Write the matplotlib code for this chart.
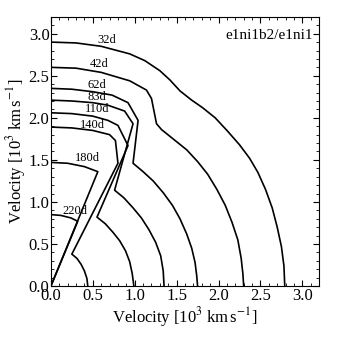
import matplotlib
matplotlib.use('Agg')
import matplotlib.pyplot as plt
from matplotlib.ticker import MultipleLocator

plt.rcParams['font.family'] = ['Liberation Serif', 'DejaVu Serif']
plt.rcParams['mathtext.fontset'] = 'stix'

# contour paths (x, y) in 10^3 km/s
x_32d = [0.0, 0.3, 0.6, 0.94, 1.12, 1.30, 1.42, 1.54, 1.68, 1.81, 1.96, 2.10, 2.25,
         2.37, 2.47, 2.56, 2.64, 2.70, 2.75, 2.78, 2.79]
y_32d = [2.90, 2.89, 2.85, 2.76, 2.68, 2.56, 2.45, 2.32, 2.21, 2.12, 2.00, 1.85, 1.68,
         1.52, 1.35, 1.15, 0.93, 0.70, 0.47, 0.24, 0.0]
x_42d = [0.0, 0.3, 0.6, 0.94, 1.14, 1.20, 1.26, 1.32, 1.47, 1.62, 1.75, 1.87, 1.98,
         2.08, 2.16, 2.23, 2.27, 2.29, 2.30]
y_42d = [2.60, 2.59, 2.54, 2.44, 2.33, 2.23, 1.93, 1.86, 1.74, 1.62, 1.48, 1.33, 1.15,
         0.96, 0.76, 0.55, 0.33, 0.15, 0.0]
x_62d = [0.0, 0.25, 0.5, 0.73, 0.92, 1.04, 0.98, 1.10, 1.22, 1.34, 1.45, 1.54, 1.62,
         1.68, 1.72, 1.74, 1.75]
y_62d = [2.35, 2.34, 2.31, 2.27, 2.18, 1.97, 1.46, 1.36, 1.25, 1.11, 0.96, 0.80, 0.62,
         0.45, 0.28, 0.12, 0.0]
x_83d = [0.0, 0.25, 0.5, 0.68, 0.88, 0.98, 0.76, 0.87, 0.98, 1.08, 1.17, 1.25, 1.31,
         1.34, 1.35]
y_83d = [2.21, 2.20, 2.18, 2.15, 2.08, 1.93, 1.14, 1.05, 0.93, 0.81, 0.67, 0.52, 0.36,
         0.18, 0.0]
x_110d = [0.0, 0.25, 0.5, 0.68, 0.80, 0.92, 0.55, 0.65, 0.74, 0.82, 0.89, 0.94, 0.97, 0.99]
y_110d = [2.06, 2.05, 2.02, 1.97, 1.91, 1.67, 0.82, 0.74, 0.64, 0.54, 0.42, 0.29, 0.15, 0.0]
x_140d = [0.0, 0.25, 0.5, 0.70, 0.77, 0.80, 0.25, 0.31, 0.36, 0.40, 0.43, 0.44]
y_140d = [1.89, 1.88, 1.85, 1.80, 1.73, 1.46, 0.38, 0.33, 0.26, 0.18, 0.09, 0.0]
x_180d = [0.0, 0.2, 0.4, 0.56, 0.0]
y_180d = [1.47, 1.46, 1.42, 1.36, 0.0]
x_220d = [0.0, 0.12, 0.24, 0.32, 0.0]
y_220d = [0.85, 0.84, 0.81, 0.77, 0.0]

paths = [(x_32d, y_32d), (x_42d, y_42d), (x_62d, y_62d), (x_83d, y_83d),
         (x_110d, y_110d), (x_140d, y_140d), (x_180d, y_180d), (x_220d, y_220d)]

day_labels = ['32d', '42d', '62d', '83d', '110d', '140d', '180d', '220d']
label_x = [0.67, 0.58, 0.55, 0.55, 0.55, 0.49, 0.43, 0.29]
label_y = [2.93, 2.64, 2.39, 2.25, 2.10, 1.91, 1.52, 0.89]

fig = plt.figure(figsize=(3.37, 3.37), dpi=100)
ax = fig.add_axes([0.151, 0.151, 0.796, 0.799])

for px, py in paths:
    ax.plot(px, py, color='k', lw=1.2)

for lab, lx, ly in zip(day_labels, label_x, label_y):
    ax.text(lx, ly, lab, fontsize=9, ha='center', va='center')

ax.text(0.975, 0.955, 'e1ni1b2/e1ni1', transform=ax.transAxes,
        ha='right', va='top', fontsize=11)

ax.set_xlim(0, 3.2)
ax.set_ylim(0, 3.2)
ax.xaxis.set_major_locator(MultipleLocator(0.5))
ax.yaxis.set_major_locator(MultipleLocator(0.5))
ax.xaxis.set_minor_locator(MultipleLocator(0.1))
ax.yaxis.set_minor_locator(MultipleLocator(0.1))
ax.tick_params(which='both', direction='in', top=True, right=True, labelsize=12)
ax.tick_params(which='major', length=4, width=0.8)
ax.tick_params(which='minor', length=2, width=0.6)
ax.set_xticklabels(['%.1f' % v for v in ax.get_xticks()])
ax.set_yticklabels(['%.1f' % v for v in ax.get_yticks()])
ax.tick_params(axis='x', pad=1)
ax.tick_params(axis='y', pad=1)

ax.set_xlabel(r'Velocity [10$^3$ km$\,$s$^{-1}$]', fontsize=12, labelpad=1)
ax.set_ylabel(r'Velocity [10$^3$ km$\,$s$^{-1}$]', fontsize=12, labelpad=0)

plt.savefig('out.png', dpi=100)
